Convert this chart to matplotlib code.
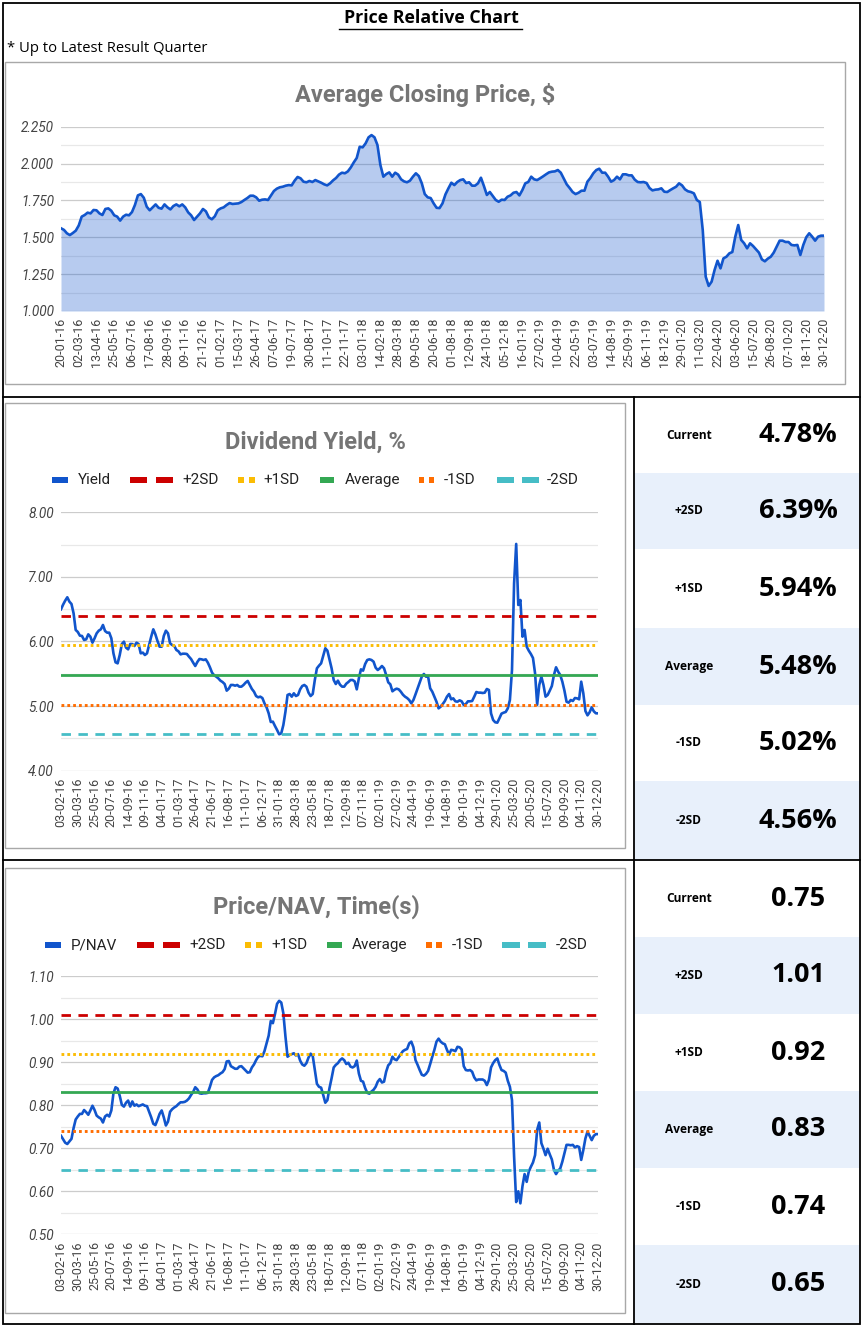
import matplotlib
matplotlib.use('Agg')
import matplotlib.pyplot as plt
import numpy as np
import pandas as pd
from matplotlib.ticker import MultipleLocator, FormatStrFormatter
from matplotlib.patches import Rectangle

# ---------------- DATA ----------------
price_values = [
    1.561, 1.550, 1.527, 1.515, 1.529, 1.545, 1.580, 1.640, 1.651, 1.667,
    1.662, 1.685, 1.683, 1.662, 1.651, 1.692, 1.696, 1.680, 1.649, 1.640,
    1.613, 1.640, 1.653, 1.649, 1.671, 1.719, 1.784, 1.793, 1.768, 1.707,
    1.683, 1.703, 1.723, 1.700, 1.694, 1.723, 1.703, 1.689, 1.712, 1.723,
    1.710, 1.723, 1.703, 1.669, 1.649, 1.617, 1.640, 1.662, 1.692, 1.676,
    1.635, 1.622, 1.642, 1.683, 1.696, 1.703, 1.719, 1.732, 1.726, 1.728,
    1.730, 1.739, 1.753, 1.766, 1.782, 1.782, 1.771, 1.748, 1.755, 1.757,
    1.753, 1.784, 1.814, 1.830, 1.839, 1.843, 1.850, 1.854, 1.852, 1.884,
    1.909, 1.900, 1.877, 1.873, 1.882, 1.875, 1.888, 1.879, 1.870, 1.859,
    1.852, 1.866, 1.886, 1.902, 1.925, 1.938, 1.934, 1.947, 1.974, 2.008,
    2.038, 2.114, 2.110, 2.137, 2.178, 2.193, 2.178, 2.126, 1.990, 1.911,
    1.929, 1.940, 1.911, 1.938, 1.925, 1.893, 1.879, 1.873, 1.884, 1.911,
    1.934, 1.915, 1.866, 1.793, 1.771, 1.766, 1.730, 1.700, 1.698, 1.730,
    1.791, 1.832, 1.870, 1.854, 1.875, 1.888, 1.893, 1.868, 1.873, 1.850,
    1.850, 1.866, 1.904, 1.848, 1.787, 1.807, 1.780, 1.753, 1.741, 1.755,
    1.753, 1.775, 1.784, 1.802, 1.807, 1.784, 1.820, 1.866, 1.875, 1.911,
    1.893, 1.888, 1.900, 1.913, 1.927, 1.940, 1.945, 1.947, 1.956, 1.938,
    1.898, 1.859, 1.834, 1.807, 1.793, 1.802, 1.816, 1.816, 1.877, 1.902,
    1.934, 1.956, 1.965, 1.938, 1.938, 1.911, 1.877, 1.888, 1.911, 1.893,
    1.927, 1.927, 1.920, 1.920, 1.891, 1.875, 1.873, 1.875, 1.868, 1.834,
    1.818, 1.823, 1.825, 1.832, 1.809, 1.807, 1.820, 1.832, 1.843, 1.866,
    1.852, 1.825, 1.812, 1.807, 1.798, 1.753, 1.739, 1.549, 1.233, 1.170,
    1.199, 1.278, 1.341, 1.289, 1.357, 1.368, 1.391, 1.400, 1.504, 1.583,
    1.482, 1.459, 1.425, 1.459, 1.441, 1.418, 1.396, 1.350, 1.337, 1.355,
    1.368, 1.396, 1.436, 1.477, 1.477, 1.468, 1.468, 1.448, 1.445, 1.448,
    1.380, 1.448, 1.500, 1.527, 1.504, 1.477, 1.504, 1.511, 1.511,
]

yield_values = [
    6.498, 6.570, 6.632, 6.684, 6.617, 6.580, 6.436, 6.178, 6.147, 6.090,
    6.085, 6.023, 6.033, 6.110, 6.074, 5.981, 6.049, 6.126, 6.167, 6.188,
    6.255, 6.162, 6.136, 6.136, 6.049, 5.816, 5.677, 5.661, 5.790, 5.960,
    5.997, 5.904, 5.878, 5.960, 5.960, 5.930, 5.981, 5.960, 5.816, 5.827,
    5.790, 5.816, 5.945, 6.074, 6.188, 6.110, 6.007, 5.919, 5.919, 6.085,
    6.167, 6.126, 5.971, 5.945, 5.930, 5.868, 5.847, 5.800, 5.810, 5.810,
    5.806, 5.765, 5.728, 5.672, 5.620, 5.682, 5.728, 5.723, 5.713, 5.723,
    5.672, 5.600, 5.517, 5.476, 5.455, 5.429, 5.393, 5.372, 5.341, 5.238,
    5.269, 5.326, 5.326, 5.315, 5.326, 5.300, 5.300, 5.326, 5.362, 5.388,
    5.326, 5.264, 5.222, 5.155, 5.135, 5.145, 5.124, 5.042, 4.980, 4.887,
    4.753, 4.758, 4.691, 4.629, 4.562, 4.577, 4.706, 4.913, 5.171, 5.186,
    5.145, 5.197, 5.155, 5.171, 5.258, 5.310, 5.326, 5.300, 5.207, 5.155,
    5.186, 5.403, 5.584, 5.625, 5.661, 5.775, 5.894, 5.857, 5.723, 5.584,
    5.403, 5.341, 5.393, 5.331, 5.300, 5.300, 5.346, 5.372, 5.403, 5.403,
    5.382, 5.258, 5.429, 5.568, 5.548, 5.651, 5.713, 5.723, 5.713, 5.687,
    5.594, 5.558, 5.584, 5.620, 5.584, 5.481, 5.367, 5.336, 5.228, 5.253,
    5.269, 5.258, 5.222, 5.176, 5.145, 5.124, 5.093, 5.042, 5.093, 5.181,
    5.274, 5.362, 5.455, 5.496, 5.455, 5.455, 5.274, 5.222, 5.145, 5.067,
    4.964, 4.990, 5.031, 5.078, 5.145, 5.186, 5.104, 5.119, 5.073, 5.067,
    5.088, 5.073, 5.016, 5.031, 5.073, 5.073, 5.078, 5.145, 5.217, 5.207,
    5.207, 5.202, 5.207, 5.264, 5.248, 4.887, 4.784, 4.748, 4.742, 4.810,
    4.882, 4.897, 4.908, 4.964, 5.093, 5.558, 6.900, 7.510, 6.565, 6.642,
    6.074, 6.178, 5.919, 5.857, 5.806, 5.744, 5.506, 5.020, 5.326, 5.455,
    5.326, 5.145, 5.171, 5.238, 5.310, 5.481, 5.600, 5.532, 5.481, 5.377,
    5.238, 5.067, 5.052, 5.093, 5.078, 5.124, 5.119, 5.104, 5.377, 5.197,
    4.923, 4.856, 4.903, 4.980, 4.918, 4.887, 4.887,
]

pnav_values = [
    0.729, 0.721, 0.713, 0.710, 0.716, 0.722, 0.747, 0.767, 0.774, 0.780,
    0.780, 0.789, 0.784, 0.778, 0.788, 0.799, 0.789, 0.776, 0.772, 0.769,
    0.760, 0.774, 0.778, 0.774, 0.788, 0.828, 0.842, 0.839, 0.822, 0.801,
    0.797, 0.806, 0.811, 0.797, 0.809, 0.799, 0.802, 0.798, 0.800, 0.802,
    0.799, 0.798, 0.785, 0.772, 0.757, 0.754, 0.766, 0.780, 0.788, 0.772,
    0.753, 0.762, 0.785, 0.791, 0.795, 0.798, 0.803, 0.807, 0.807, 0.808,
    0.811, 0.816, 0.824, 0.831, 0.842, 0.837, 0.828, 0.827, 0.828, 0.828,
    0.829, 0.843, 0.859, 0.865, 0.868, 0.870, 0.874, 0.877, 0.884, 0.902,
    0.903, 0.891, 0.888, 0.885, 0.885, 0.890, 0.891, 0.886, 0.881, 0.876,
    0.877, 0.888, 0.895, 0.905, 0.913, 0.915, 0.914, 0.926, 0.944, 0.962,
    0.996, 0.991, 1.012, 1.036, 1.043, 1.039, 1.014, 0.960, 0.913, 0.917,
    0.919, 0.921, 0.916, 0.919, 0.904, 0.895, 0.892, 0.898, 0.911, 0.920,
    0.915, 0.882, 0.850, 0.843, 0.841, 0.824, 0.806, 0.812, 0.840, 0.863,
    0.888, 0.894, 0.898, 0.905, 0.909, 0.905, 0.896, 0.899, 0.890, 0.888,
    0.891, 0.904, 0.874, 0.857, 0.855, 0.840, 0.829, 0.827, 0.832, 0.836,
    0.843, 0.855, 0.861, 0.853, 0.855, 0.878, 0.893, 0.898, 0.913, 0.907,
    0.905, 0.912, 0.919, 0.926, 0.929, 0.931, 0.944, 0.948, 0.935, 0.905,
    0.894, 0.882, 0.871, 0.869, 0.873, 0.880, 0.896, 0.913, 0.929, 0.948,
    0.955, 0.948, 0.944, 0.942, 0.929, 0.918, 0.929, 0.928, 0.926, 0.936,
    0.935, 0.930, 0.891, 0.882, 0.881, 0.882, 0.878, 0.865, 0.858, 0.860,
    0.860, 0.860, 0.857, 0.847, 0.859, 0.888, 0.898, 0.905, 0.909, 0.894,
    0.882, 0.880, 0.876, 0.857, 0.843, 0.812, 0.681, 0.575, 0.600, 0.572,
    0.612, 0.640, 0.622, 0.646, 0.657, 0.667, 0.684, 0.743, 0.760, 0.712,
    0.699, 0.684, 0.699, 0.686, 0.674, 0.650, 0.640, 0.648, 0.653, 0.669,
    0.688, 0.708, 0.708, 0.707, 0.708, 0.702, 0.705, 0.703, 0.673, 0.696,
    0.723, 0.739, 0.729, 0.719, 0.729, 0.733, 0.733,
]

price_start = '2016-01-20'
ratio_start = '2016-02-03'

price_tick_labels = [
    '20-01-16', '02-03-16', '13-04-16', '25-05-16', '06-07-16', '17-08-16',
    '28-09-16', '09-11-16', '21-12-16', '01-02-17', '15-03-17', '26-04-17',
    '07-06-17', '19-07-17', '30-08-17', '11-10-17', '22-11-17', '03-01-18',
    '14-02-18', '28-03-18', '09-05-18', '20-06-18', '01-08-18', '12-09-18',
    '24-10-18', '05-12-18', '16-01-19', '27-02-19', '10-04-19', '22-05-19',
    '03-07-19', '14-08-19', '25-09-19', '06-11-19', '18-12-19', '29-01-20',
    '11-03-20', '22-04-20', '03-06-20', '15-07-20', '26-08-20', '07-10-20',
    '18-11-20', '30-12-20',
]
ratio_tick_labels = [
    '03-02-16', '30-03-16', '25-05-16', '20-07-16', '14-09-16', '09-11-16',
    '04-01-17', '01-03-17', '26-04-17', '21-06-17', '16-08-17', '11-10-17',
    '06-12-17', '31-01-18', '28-03-18', '23-05-18', '18-07-18', '12-09-18',
    '07-11-18', '02-01-19', '27-02-19', '24-04-19', '19-06-19', '14-08-19',
    '09-10-19', '04-12-19', '29-01-20', '25-03-20', '20-05-20', '15-07-20',
    '09-09-20', '04-11-20', '30-12-20',
]

stat_labels = ['Current', '+2SD', '+1SD', 'Average', '-1SD', '-2SD']
yield_stats = [4.78, 6.39, 5.94, 5.48, 5.02, 4.56]
pnav_stats = [0.75, 1.01, 0.92, 0.83, 0.74, 0.65]
yield_legend = ['Yield', '+2SD', '+1SD', 'Average', '-1SD', '-2SD']
pnav_legend = ['P/NAV', '+2SD', '+1SD', 'Average', '-1SD', '-2SD']

# ---------------- STYLE ----------------
W, H = 863, 1328
BLUE = '#1155CC'
RED = '#CC0000'
YEL = '#FBBC04'
GREEN = '#34A853'
ORANGE = '#FF6D01'
TEAL = '#46BDC6'
SD_COLORS = [RED, YEL, GREEN, ORANGE, TEAL]
SD_KINDS = ['dash', 'dot', 'solid', 'dot', 'dash']
TITLE_GRAY = '#757575'
TICK_COL = '#444444'
CAL = ['Open Sans', 'DejaVu Sans']
ROB = ['Roboto', 'DejaVu Sans']

plt.rcParams['font.family'] = ROB

fig = plt.figure(figsize=(W / 100, H / 100), dpi=100)
fig.patch.set_facecolor('white')

bg = fig.add_axes([0, 0, 1, 1], zorder=-5)
bg.set_xlim(0, W)
bg.set_ylim(H, 0)
bg.axis('off')


def ax_px(x0, y0, x1, y1):
    a = fig.add_axes([x0 / W, 1 - y1 / H, (x1 - x0) / W, (y1 - y0) / H])
    a.set_facecolor('none')
    return a


def fmt_dates(start, n):
    return list(pd.date_range(start=start, periods=n, freq='7D').strftime('%d-%m-%y'))


def base_chart(ax, values, start, tick_labels, ylim, major, minor, fmt):
    n = len(values)
    x = np.arange(n)
    dates = fmt_dates(start, n)
    pos = {d: i for i, d in enumerate(dates)}
    tpos = [pos[t] for t in tick_labels if t in pos]
    tlab = [t for t in tick_labels if t in pos]
    ax.set_xlim(0, n - 1)
    ax.set_ylim(*ylim)
    ax.yaxis.set_major_locator(MultipleLocator(major))
    ax.yaxis.set_minor_locator(MultipleLocator(minor))
    ax.yaxis.set_major_formatter(FormatStrFormatter(fmt))
    ax.grid(which='major', axis='y', color='#CCCCCC', lw=0.9, zorder=0)
    ax.grid(which='minor', axis='y', color='#E8E8E8', lw=0.9, zorder=0)
    ax.set_axisbelow(True)
    for s in ax.spines.values():
        s.set_visible(False)
    ax.set_xticks(tpos)
    ax.set_xticklabels(tlab, rotation=90, fontsize=9, color=TICK_COL)
    ax.tick_params(axis='both', which='both', length=0)
    ax.tick_params(axis='x', pad=5)
    ax.tick_params(axis='y', pad=5, labelsize=9.8, labelcolor=TICK_COL)
    for lab in ax.get_yticklabels():
        lab.set_fontstyle('italic')
    return x


def sd_lines(ax, stats):
    for val, col, kind in zip(stats[1:], SD_COLORS, SD_KINDS):
        if kind == 'dash':
            ax.axhline(val, color=col, lw=2.0, dashes=(3.4, 2.7), zorder=4)
        elif kind == 'dot':
            ax.axhline(val, color=col, lw=2.1, dashes=(0.95, 1.05), zorder=4)
        else:
            ax.axhline(val, color=col, lw=2.0, zorder=4)


def draw_legend(labels, handles_x, text_x, y):
    colors = [BLUE] + SD_COLORS
    kinds = ['solid'] + SD_KINDS
    for lab, (h0, h1), tx, col, kind in zip(labels, handles_x, text_x, colors, kinds):
        hh = 5.5
        if kind == 'solid':
            bg.add_patch(Rectangle((h0, y - hh / 2), h1 - h0, hh, color=col, lw=0))
        else:
            seg = (h1 - h0) * (0.4 if kind == 'dash' else 0.36)
            bg.add_patch(Rectangle((h0, y - hh / 2), seg, hh, color=col, lw=0))
            bg.add_patch(Rectangle((h1 - seg, y - hh / 2), seg, hh, color=col, lw=0))
        bg.text(tx, y, lab, fontsize=11, color='#222222', va='center', ha='left',
                family=ROB)


def draw_table(stats, fmt, rows):
    for i, (lab, val) in enumerate(zip(stat_labels, stats)):
        y0, y1 = rows[i], rows[i + 1]
        if i % 2 == 1:
            bg.add_patch(Rectangle((635, y0), 224, y1 - y0, color='#E8F0FB', lw=0))
        yc = (y0 + y1) / 2
        bg.text(689, yc, lab, fontsize=8.6, fontweight='bold', ha='center',
                va='center', family=CAL, color='black')
        bg.text(798, yc, fmt % val, fontsize=19.5, fontweight='bold', ha='center',
                va='center', family=CAL, color='black')


# ---------------- FRAME ----------------
lw_black = 1.3
bg.add_patch(Rectangle((2.5, 3), 857, 1321, fill=False, ec='black', lw=lw_black))
bg.plot([2.5, 859.5], [397, 397], color='black', lw=lw_black)
bg.plot([2.5, 859.5], [860, 860], color='black', lw=lw_black)
bg.plot([634, 634], [397, 1324], color='black', lw=lw_black)

for (x0, y0, x1, y1) in [(5, 62, 845, 384), (5, 403, 625, 848), (5, 868, 625, 1313)]:
    bg.add_patch(Rectangle((x0, y0), x1 - x0, y1 - y0, fill=False, ec='#A8A8A8', lw=1.0))

bg.text(431, 18, 'Price Relative Chart', fontsize=12.8, fontweight='bold',
        ha='center', va='center', family=CAL)
bg.plot([339, 522], [28.5, 28.5], color='black', lw=1.0)
bg.text(7, 48, '* Up to Latest Result Quarter', fontsize=10.6, ha='left',
        va='center', family=CAL)

# ---------------- PRICE CHART ----------------
ax1 = ax_px(61, 126.7, 824, 311)
x1 = base_chart(ax1, price_values, price_start, price_tick_labels,
                (1.0, 2.25), 0.25, 0.125, '%.3f')
ax1.fill_between(x1, price_values, 1.0, color=BLUE, alpha=0.3, lw=0, zorder=2)
ax1.plot(x1, price_values, color=BLUE, lw=1.9, zorder=3, solid_joinstyle='round')
bg.text(425, 95, 'Average Closing Price, $', fontsize=17, fontweight='bold',
        color=TITLE_GRAY, ha='center', va='center', family=ROB)

# ---------------- DIVIDEND YIELD ----------------
ax2 = ax_px(61, 512.3, 598, 770.6)
x2 = base_chart(ax2, yield_values, ratio_start, ratio_tick_labels,
                (4.0, 8.0), 1.0, 0.5, '%.2f')
ax2.plot(x2, yield_values, color=BLUE, lw=1.9, zorder=3, solid_joinstyle='round')
sd_lines(ax2, yield_stats)
bg.text(315, 442, 'Dividend Yield, %', fontsize=17, fontweight='bold',
        color=TITLE_GRAY, ha='center', va='center', family=ROB)
draw_legend(yield_legend,
            [(52, 68), (130, 173), (238, 255), (320, 334), (419, 434), (497, 539)],
            [78, 182, 263, 345, 444, 547], 480)
draw_table(yield_stats, '%.2f%%', [398, 473, 549, 628, 705, 781, 860])

# ---------------- PRICE / NAV ----------------
ax3 = ax_px(61, 976.3, 598, 1234.3)
x3 = base_chart(ax3, pnav_values, ratio_start, ratio_tick_labels,
                (0.5, 1.1), 0.1, 0.05, '%.2f')
ax3.plot(x3, pnav_values, color=BLUE, lw=1.9, zorder=3, solid_joinstyle='round')
sd_lines(ax3, pnav_stats)
bg.text(316, 907, 'Price/NAV, Time(s)', fontsize=17, fontweight='bold',
        color=TITLE_GRAY, ha='center', va='center', family=ROB)
draw_legend(pnav_legend,
            [(45, 61), (137, 180), (245, 262), (327, 342), (426, 442), (502, 546)],
            [71, 189, 271, 352, 452, 556], 945)
draw_table(pnav_stats, '%.2f', [860, 937, 1014, 1091, 1168, 1245, 1323])

fig.savefig('out.png', dpi=100, facecolor='white')
